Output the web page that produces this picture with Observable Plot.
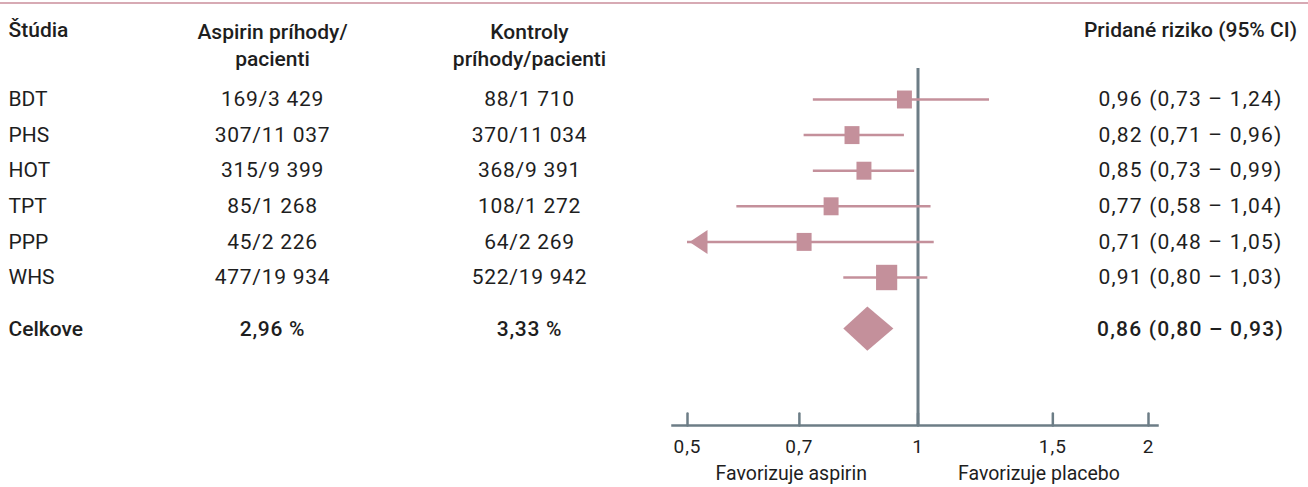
<!DOCTYPE html>
<html><head><meta charset="utf-8">
<script src="https://cdn.jsdelivr.net/npm/d3@7"></script>
<script src="https://cdn.jsdelivr.net/npm/@observablehq/plot@0.6"></script>
<style>
body{margin:0;background:#fff;}
#topline{position:absolute;left:0;top:2px;width:1308px;height:2px;background:#d7aab4;}
#chart svg{display:block;}
</style></head><body>
<div id="topline"></div>
<div id="chart"></div>
<script>
// ---- data ----
const studies = ["BDT", "PHS", "HOT", "TPT", "PPP", "WHS"];
const aspirinEvents = ["169/3 429", "307/11 037", "315/9 399", "85/1 268", "45/2 226", "477/19 934"];
const controlEvents = ["88/1 710", "370/11 034", "368/9 391", "108/1 272", "64/2 269", "522/19 942"];
const rr = [0.96, 0.82, 0.85, 0.77, 0.71, 0.91];
const ciLow = [0.73, 0.71, 0.73, 0.58, 0.48, 0.80];
const ciHigh = [1.24, 0.96, 0.99, 1.04, 1.05, 1.03];
const weights = [1, 1, 1, 1, 1, 2];
const overallLabel = "Celkove";
const overallAspirin = "2,96 %";
const overallControl = "3,33 %";
const overallRR = [0.86, 0.80, 0.93]; // estimate, low, high
const xTicks = [0.5, 0.7, 1, 1.5, 2];
const headerStudy = "Štúdia";
const headerAspirin = "Aspirin príhody/\npacienti";
const headerControl = "Kontroly\npríhody/pacienti";
const headerRR = "Pridané riziko (95% CI)";
const favorLeft = "Favorizuje aspirin";
const favorRight = "Favorizuje placebo";

// ---- styling / layout ----
const FONT = "Roboto, 'Liberation Sans', Arial, sans-serif";
const PINK = "#c4909b";
const AXIS = "#6c7d86";
const TEXT = "#1e1e1e";
const W = 1308, H = 487;
const fmt = v => v.toFixed(2).replace(".", ",");
const commaFmt = v => String(v).replace(".", ",");
const idx = d3.range(studies.length);
const overallRow = 6.45;
const xStudy = 8, xAsp = 272, xCtl = 529, xRR = 1190;
const mL = 687, mR = 160;

const rectSymbol = {draw(ctx, size) {
  const r = Math.sqrt(size / Math.PI);
  const h = r, w = r * 15 / 18;
  ctx.rect(-w, -h, 2 * w, 2 * h);
}};
const leftArrow = {draw(ctx) {
  ctx.moveTo(0, 0); ctx.lineTo(18, -12); ctx.lineTo(18, 12); ctx.closePath();
}};
const tickShape = {draw(ctx, l) { ctx.moveTo(0, 0); ctx.lineTo(0, -l); }};

const diamond = [
  {x: overallRR[1], y1: overallRow, y2: overallRow},
  {x: overallRR[0], y1: overallRow - 0.62, y2: overallRow + 0.62},
  {x: overallRR[2], y1: overallRow, y2: overallRow}
];

const txt = (data, opts) => Plot.text(data, {fill: TEXT, lineAnchor: "middle", ...opts});

const plot = Plot.plot({
  width: W, height: H,
  marginLeft: mL, marginRight: mR, marginTop: 68, marginBottom: 62,
  x: {type: "log", domain: [0.5, 2], clamp: true, axis: null},
  y: {domain: [0, 5], range: [99, 277], axis: null},
  r: {type: "sqrt", domain: [0, 2], range: [0, 12.7]},
  style: {fontFamily: FONT, fontSize: "21px", color: TEXT, background: "#fff"},
  marks: [
    Plot.frame({anchor: "bottom", stroke: AXIS, strokeWidth: 2.5, insetLeft: -15, insetRight: -9}),
    Plot.ruleX([1], {stroke: AXIS, strokeWidth: 3}),
    Plot.vector(xTicks, {x: d => d, frameAnchor: "bottom", anchor: "start", length: 12, rotate: 0, shape: tickShape, stroke: AXIS, strokeWidth: 2.5}),
    Plot.axisX(xTicks, {tickSize: 0, tickPadding: 14, tickFormat: commaFmt, fontSize: 19, fill: TEXT, label: null, ariaDescription: "tick-labels"}),
    Plot.text([favorLeft], {x: 1, text: d => d, frameAnchor: "bottom", lineAnchor: "middle", dx: -51, dy: 48, textAnchor: "end", fontSize: 19.5, fill: TEXT}),
    Plot.text([favorRight], {x: 1, text: d => d, frameAnchor: "bottom", lineAnchor: "middle", dx: 40, dy: 48, textAnchor: "start", fontSize: 19.5, fill: TEXT}),
    // whiskers, squares, arrow
    Plot.ruleY(idx, {y: i => i, x1: i => ciLow[i], x2: i => ciHigh[i], stroke: PINK, strokeWidth: 2.5}),
    Plot.dot(idx, {x: i => rr[i], y: i => i, r: i => weights[i], symbol: rectSymbol, fill: PINK, stroke: "none"}),
    Plot.dot(idx.filter(i => ciLow[i] < 0.5), {x: i => ciLow[i], y: i => i, symbol: leftArrow, fill: PINK, stroke: "none", dx: 2}),
    Plot.areaY(diamond, {x: "x", y1: "y1", y2: "y2", fill: PINK}),
    // table text
    txt(idx, {text: i => studies[i], y: i => i, frameAnchor: "left", dx: xStudy - mL, textAnchor: "start"}),
    txt(idx, {text: i => aspirinEvents[i], y: i => i, frameAnchor: "left", dx: xAsp - mL, textAnchor: "middle", ariaDescription: "num-col"}),
    txt(idx, {text: i => controlEvents[i], y: i => i, frameAnchor: "left", dx: xCtl - mL, textAnchor: "middle", ariaDescription: "num-col"}),
    txt(idx, {text: i => `${fmt(rr[i])} (${fmt(ciLow[i])} – ${fmt(ciHigh[i])})`, y: i => i, frameAnchor: "right", dx: xRR - (W - mR), textAnchor: "middle", ariaDescription: "rr-col"}),
    // overall row
    txt([overallLabel], {text: d => d, y: overallRow, frameAnchor: "left", dx: xStudy - mL, textAnchor: "start", fontWeight: 500}),
    txt([overallAspirin], {text: d => d, y: overallRow, frameAnchor: "left", dx: xAsp - mL, textAnchor: "middle", fontWeight: 500, ariaDescription: "num-col"}),
    txt([overallControl], {text: d => d, y: overallRow, frameAnchor: "left", dx: xCtl - mL, textAnchor: "middle", fontWeight: 500, ariaDescription: "num-col"}),
    txt([overallRR], {text: d => `${fmt(d[0])} (${fmt(d[1])} – ${fmt(d[2])})`, y: overallRow, frameAnchor: "right", dx: xRR - (W - mR), textAnchor: "middle", fontWeight: 500, ariaDescription: "rr-col"}),
    // headers
    txt([headerStudy], {text: d => d, y: -1.94, frameAnchor: "left", dx: xStudy - mL, textAnchor: "start", fontWeight: 500}),
    txt([headerAspirin], {text: d => d, y: -1.56, frameAnchor: "left", dx: xAsp - mL, textAnchor: "middle", fontWeight: 500, lineHeight: 1.3}),
    txt([headerControl], {text: d => d, y: -1.56, frameAnchor: "left", dx: xCtl - mL, textAnchor: "middle", fontWeight: 500, lineHeight: 1.3}),
    txt([headerRR], {text: d => d, y: -1.94, frameAnchor: "right", dx: xRR - (W - mR), textAnchor: "middle", fontWeight: 500})
  ]
});
const svg = d3.select(plot);
svg.selectAll('[aria-description="num-col"]').style("letter-spacing", "0.7px");
svg.selectAll('[aria-description="rr-col"]').style("letter-spacing", "1.2px");
svg.selectAll('[aria-description="tick-labels"]').style("letter-spacing", "1px");
document.getElementById("chart").appendChild(plot);
</script>
</body></html>
